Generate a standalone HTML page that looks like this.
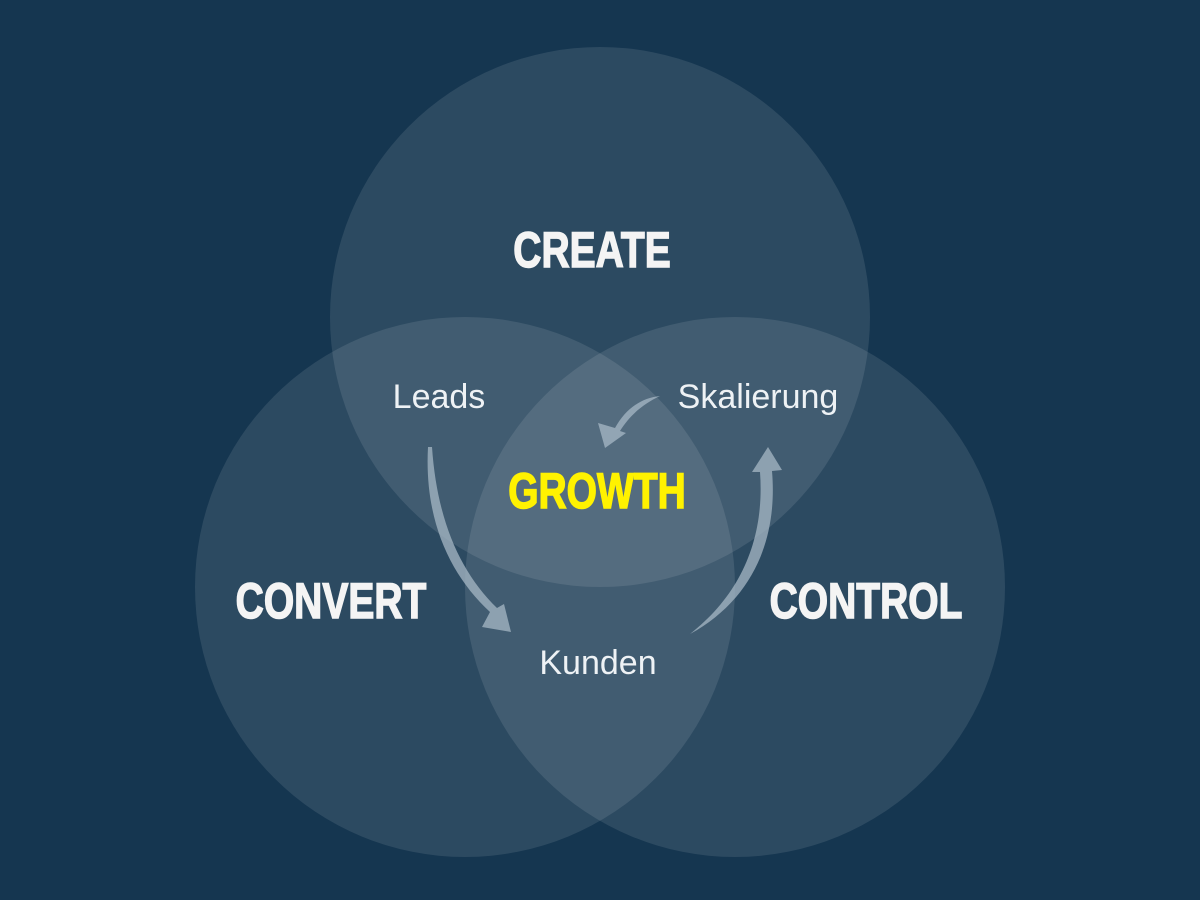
<!DOCTYPE html>
<html><head><style>
html,body{margin:0;padding:0;background:#153650;}
svg{display:block}
.h{font-family:"Liberation Sans",sans-serif;font-weight:bold;font-size:50px;fill:#f4f4f4;stroke:#f4f4f4;stroke-width:1.5}
.l{font-family:"Liberation Sans",sans-serif;font-size:34px;fill:#eef2f5}
</style></head><body>
<svg width="1200" height="900" viewBox="0 0 1200 900">
<rect width="1200" height="900" fill="#153650"/>
<g fill="#ffffff" fill-opacity="0.1">
<circle cx="600" cy="317" r="270"/>
<circle cx="465" cy="587" r="270"/>
<circle cx="735" cy="587" r="270"/>
</g>
<g fill="#a7b8c6" fill-opacity="0.75">
<path d="M428,447 C424,520 450,575 490,612 L482,627 L511,632 L504,604 L497,608 C460,572 437,520 432,447 Z"/>
<path d="M690,634 C740,595 765,540 760,472 L752,472 L768,447 L782,470 L772,471 C778,540 752,600 690,634 Z"/>
<path d="M660,396 C640,398 625,410 615,428 L598,423 L605,448 L626,433 L620,431 C630,415 643,404 660,396 Z"/>
</g>
<g transform="translate(592,267) scale(0.78,1)"><text class="h" x="0" y="0" text-anchor="middle">CREATE</text></g>
<g transform="translate(331,618) scale(0.78,1)"><text class="h" x="0" y="0" text-anchor="middle">CONVERT</text></g>
<g transform="translate(866,618) scale(0.78,1)"><text class="h" x="0" y="0" text-anchor="middle">CONTROL</text></g>
<g transform="translate(597,508) scale(0.78,1)"><text class="h" x="0" y="0" text-anchor="middle" style="fill:#fff200;stroke:#fff200">GROWTH</text></g>
<text class="l" x="439" y="408" text-anchor="middle">Leads</text>
<text class="l" x="758" y="408" text-anchor="middle">Skalierung</text>
<text class="l" x="598" y="674" text-anchor="middle">Kunden</text>
</svg>
</body></html>
